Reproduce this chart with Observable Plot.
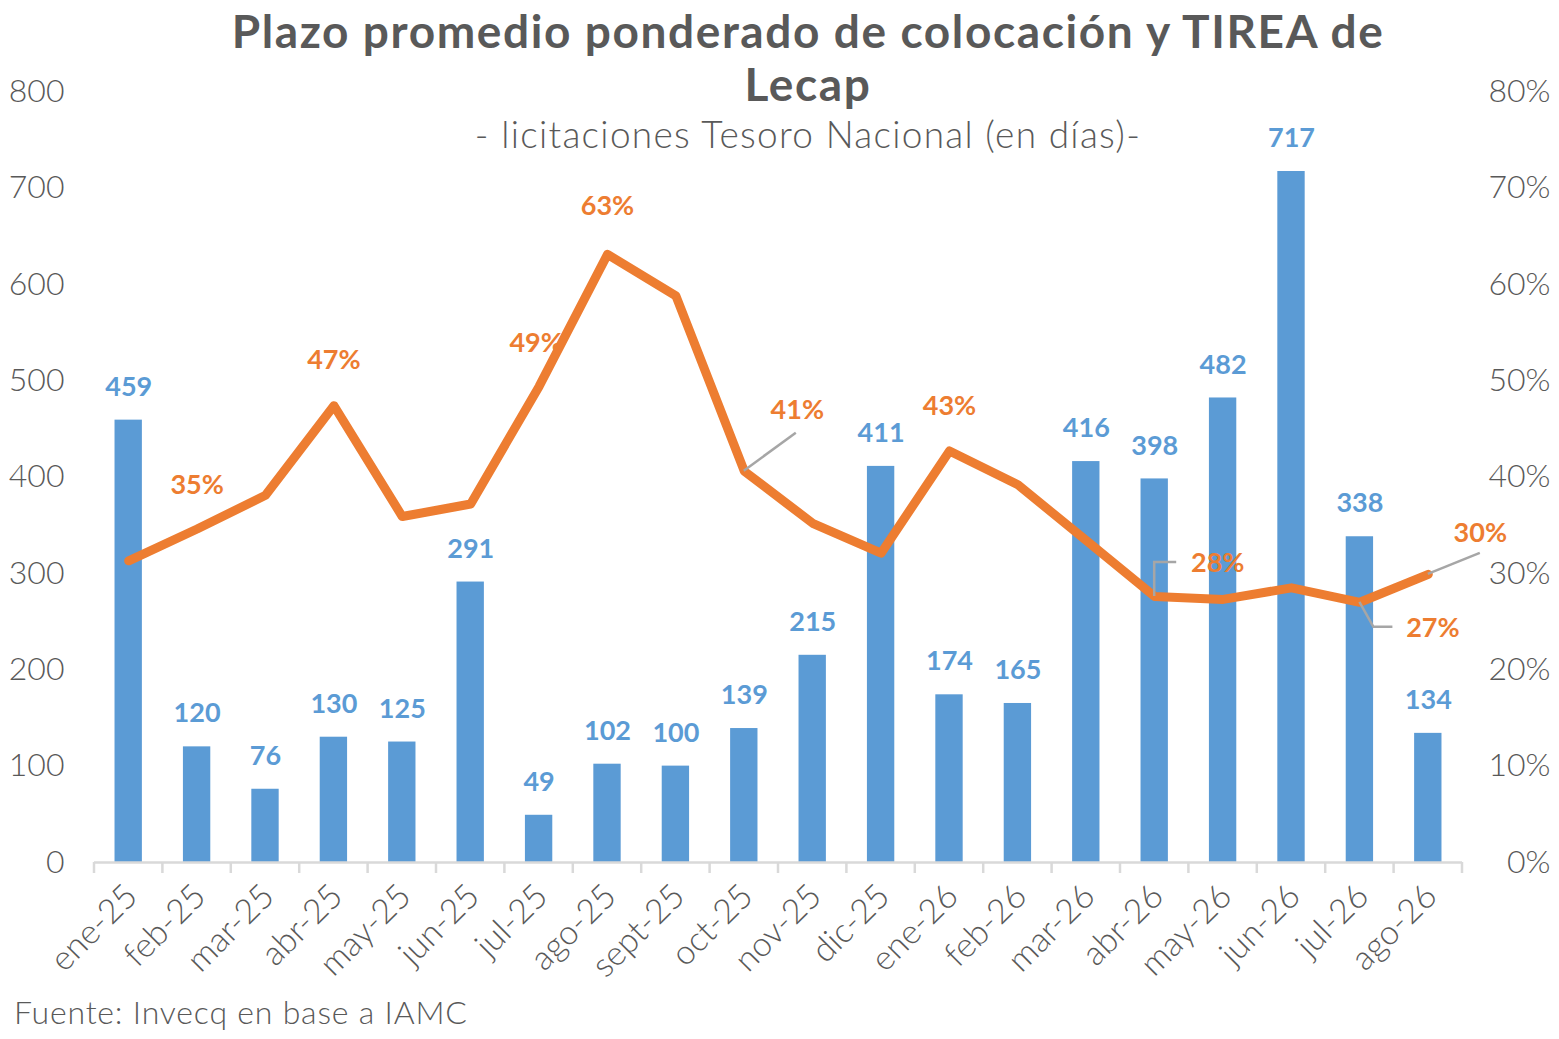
<!DOCTYPE html>
<html>
<head>
<meta charset="utf-8">
<script src="https://cdn.jsdelivr.net/npm/d3@7"></script>
<script src="https://cdn.jsdelivr.net/npm/@observablehq/plot@0.6"></script>
<style>
  body { margin: 0; background: #fff; }
  #wrap { position: relative; width: 1559px; height: 1039px; overflow: hidden; font-family: Lato, "Open Sans", sans-serif; color: #595959; background: #fff; }
  #chart { position: absolute; left: 0; top: 0; }
  .title { position: absolute; left: 808px; transform: translateX(-50%); white-space: nowrap; text-align: center; }
  #t1 { top: 4px; font-size: 46px; font-weight: 700; line-height: 53px; letter-spacing: 1.6px; }
  #sub { top: 112px; font-size: 37px; font-weight: 300; line-height: 1.2; letter-spacing: 1.3px; }
  #src { position: absolute; left: 14px; top: 993px; font-size: 32px; font-weight: 300; line-height: 1.2; letter-spacing: 0.8px; }
</style>
</head>
<body>
<div id="wrap">
  <div id="chart"></div>
  <div class="title" id="t1">Plazo promedio ponderado de colocación y TIREA de<br>Lecap</div>
  <div class="title" id="sub">- licitaciones Tesoro Nacional (en días)-</div>
  <div id="src">Fuente: Invecq en base a IAMC</div>
</div>
<script>
// ---- data ----
const months = ["ene-25","feb-25","mar-25","abr-25","may-25","jun-25","jul-25","ago-25","sept-25","oct-25","nov-25","dic-25","ene-26","feb-26","mar-26","abr-26","may-26","jun-26","jul-26","ago-26"];
const plazo = [459,120,76,130,125,291,49,102,100,139,215,411,174,165,416,398,482,717,338,134];
const tirea = [31.3,34.6,38.1,47.4,35.9,37.2,49.4,63.1,58.8,40.6,35.2,32.1,42.7,39.2,33.4,27.6,27.3,28.5,27.0,29.9];
const yTicks = [0,100,200,300,400,500,600,700,800];

// labelled line points and label offsets (pixels)
const labelMonths = ["feb-25","abr-25","jul-25","ago-25","oct-25","ene-26","abr-26","jul-26","ago-26"];
const labelDx = [0, 0, -3, 0, 53, 0, 63, 73, 52];
const labelDy = [-44, -45, -43, -48, -61, -45, -33, 26, -41];

// leader lines (pixel offsets from the point)
const leaderMonths = ["oct-25","abr-26","jul-26","ago-26"];
const leaderPaths = [
  [[0,0],[52,-38]],
  [[0,0],[0,-34],[22,-34]],
  [[0,0],[14,25],[33,25]],
  [[0,0],[52,-21]]
];

const rows = months.map((m, i) => ({month: m, plazo: plazo[i], tirea: tirea[i]}));

const BLUE = "#5B9BD5", ORANGE = "#ED7D31", GRAY = "#595959";
const ns = "http://www.w3.org/2000/svg";

function bandInfo(sx) {
  const bw = typeof sx.bandwidth === "function" ? sx.bandwidth() : 0;
  const step = typeof sx.step === "function" ? sx.step() : bw;
  return {bw, step};
}

function boundaryTicks(index, scales) {
  const sx = scales.x, sy = scales.y;
  const {bw, step} = bandInfo(sx);
  const g = document.createElementNS(ns, "g");
  const y0 = sy(0);
  const xs = months.map(m => sx(m) + bw / 2 - step / 2);
  xs.push(sx(months[months.length - 1]) + bw / 2 + step / 2);
  for (const x of xs) {
    const l = document.createElementNS(ns, "line");
    l.setAttribute("x1", x); l.setAttribute("x2", x);
    l.setAttribute("y1", y0); l.setAttribute("y2", y0 + 11);
    l.setAttribute("stroke", "#D9D9D9"); l.setAttribute("stroke-width", 2.5);
    g.appendChild(l);
  }
  return g;
}

function leaders(index, scales) {
  const sx = scales.x, sy = scales.y;
  const {bw} = bandInfo(sx);
  const g = document.createElementNS(ns, "g");
  leaderMonths.forEach((m, k) => {
    const i = months.indexOf(m);
    const x0 = sx(m) + bw / 2, y0 = sy(tirea[i] * 10);
    const pl = document.createElementNS(ns, "polyline");
    pl.setAttribute("points", leaderPaths[k].map(([dx, dy]) => `${x0 + dx},${y0 + dy}`).join(" "));
    pl.setAttribute("fill", "none");
    pl.setAttribute("stroke", "#A6A6A6");
    pl.setAttribute("stroke-width", 2.5);
    g.appendChild(pl);
  });
  return g;
}

const lineLabelMarks = labelMonths.map((m, k) =>
  Plot.text(rows.filter(d => d.month === m), {
    x: "month", y: d => d.tirea * 10, text: d => Math.round(d.tirea) + "%",
    dx: labelDx[k], dy: labelDy[k], fill: ORANGE, fontWeight: "bold", fontSize: 27
  })
);

const chart = Plot.plot({
  width: 1559,
  height: 990,
  marginLeft: 94,
  marginRight: 97,
  marginTop: 91,
  marginBottom: 128,
  style: {fontFamily: "Lato, 'Open Sans', sans-serif", fontSize: "29px", color: GRAY, background: "white", overflow: "visible"},
  x: {domain: months, paddingInner: 0.6, paddingOuter: 0.3, round: false, label: null},
  y: {domain: [0, 800], label: null},
  marks: [
    Plot.barY(rows, {x: "month", y: "plazo", fill: BLUE}),
    Plot.ruleY([0], {stroke: "#D9D9D9", strokeWidth: 2.5}),
    boundaryTicks,
    Plot.axisY({anchor: "left", ticks: yTicks, tickSize: 0, tickPadding: 30, label: null, fontSize: 32, fontWeight: 300, fill: GRAY}),
    Plot.axisY({anchor: "right", ticks: yTicks, tickFormat: d => d / 10 + "%", tickSize: 0, tickPadding: 88, textAnchor: "end", label: null, fontSize: 32, fontWeight: 300, fill: GRAY}),
    Plot.axisX({tickRotate: -45, tickSize: 0, tickPadding: 28, dx: 3, label: null, fontSize: 34, fontWeight: 300, fill: GRAY}),
    Plot.text(rows, {x: "month", y: "plazo", text: d => String(d.plazo), dy: -33, fill: BLUE, fontWeight: "bold", fontSize: 27}),
    Plot.line(rows, {x: "month", y: d => d.tirea * 10, stroke: ORANGE, strokeWidth: 9, strokeLinejoin: "round", strokeLinecap: "round"}),
    leaders,
    ...lineLabelMarks
  ]
});
document.getElementById("chart").appendChild(chart);
</script>
</body>
</html>
